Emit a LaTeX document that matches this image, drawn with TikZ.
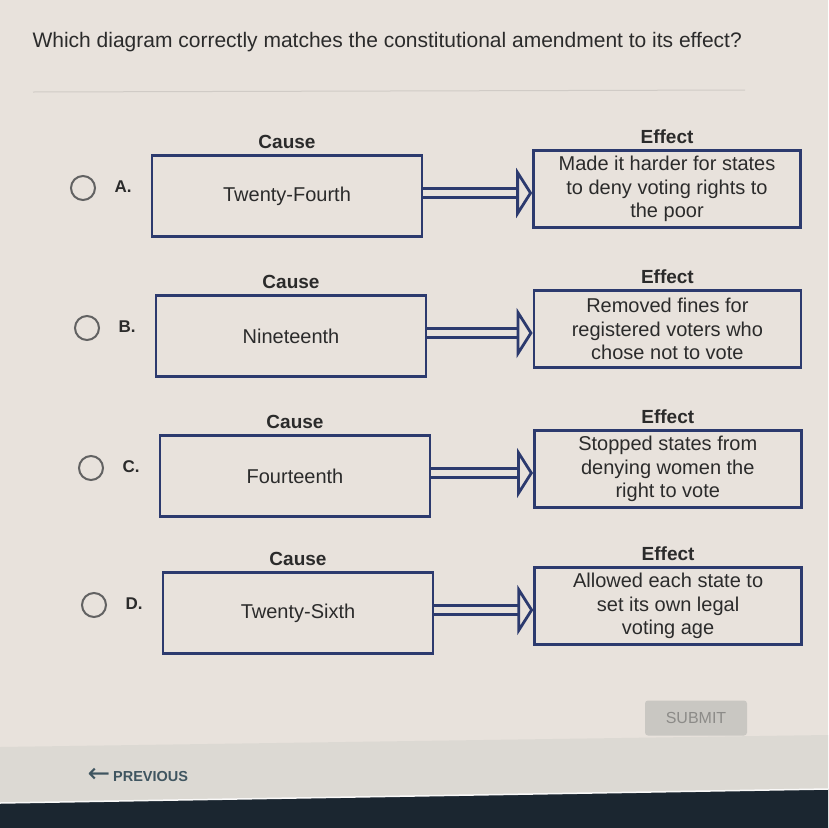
\documentclass[tikz,border=0pt]{standalone}
\usepackage{fontspec}
\setmainfont{Liberation Sans}
\newfontfamily\arrowfont{DejaVu Sans}
\usetikzlibrary{arrows.meta,positioning}
\definecolor{QuizBg}{HTML}{E8E2DC}
\definecolor{QuizFoot}{HTML}{DCD9D3}
\definecolor{QuizDark}{HTML}{1B2630}
\definecolor{QuizNavy}{HTML}{2C3A6E}
\definecolor{QuizText}{HTML}{2B2B2B}
\definecolor{QuizRule}{HTML}{D0CBC6}
\definecolor{QuizRadio}{HTML}{626262}
\definecolor{QuizButton}{HTML}{C9C7C2}
\definecolor{QuizGray}{HTML}{8C8B88}
\definecolor{QuizTeal}{HTML}{3F5560}
\tikzset{
  causebox/.style={draw=QuizNavy,line width=2.6pt,minimum width=270pt,minimum height=81pt,
    text=QuizText,font=\fontsize{20}{23.5}\selectfont},
  effectbox/.style={causebox,minimum width=267pt,minimum height=77pt,align=center,inner sep=2pt},
  headlabel/.style={text=QuizText,font=\bfseries\fontsize{19}{21}\selectfont},
  radio/.style={circle,draw=QuizRadio,line width=2pt,minimum size=24pt,inner sep=0pt},
  letter/.style={text=QuizText,font=\bfseries\fontsize{17}{19}\selectfont},
  implies/.style={-{Triangle[length=16pt,width=50pt,line width=2.8pt,fill=QuizBg]},
    draw=QuizNavy,line width=2.8pt,double=QuizBg,double distance=6pt},
  navtext/.style={text=QuizTeal,font=\bfseries\fontsize{14.5}{16}\selectfont}
}
\begin{document}
\begin{tikzpicture}[x=1pt,y=-1pt]
  \useasboundingbox (0,0) rectangle (828,828);
  % screen background, footer and bezel
  \fill[QuizBg] (0,0) rectangle (828,828);
  \fill[QuizFoot] (0,747) -- (828,735) -- (828,828) -- (0,828) -- cycle;
  \fill[QuizDark] (0,803) -- (828,789) -- (828,828) -- (0,828) -- cycle;
  \draw[white!85!QuizFoot,line width=1.5pt] (0,803) -- (828,789);

  \node[anchor=west,text=QuizText,font=\fontsize{21}{24}\selectfont] (question) at (29,42)
    {Which diagram correctly matches the constitutional amendment to its effect?};
  \draw[QuizRule,line width=1pt] (33,92) -- (745,90);

  \foreach \row/\y/\dx/\cause/\effect in {
    A/196/0/Twenty-Fourth/{Made it harder for states\\to deny voting rights to\\the poor},
    B/336/4/Nineteenth/{Removed fines for\\registered voters who\\chose not to vote},
    C/476/8/Fourteenth/{Stopped states from\\denying women the\\right to vote},
    D/613/11/Twenty-Sixth/{Allowed each state to\\set its own legal\\voting age}} {
    \node[radio] (radio\row) at (83+\dx,\y-8) {};
    \node[letter,anchor=west] (letter\row) at (111+\dx,\y-9) {\row.};
    \node[causebox] (cause\row) at (287+\dx,\y) {\cause};
    \node[effectbox] (effect\row) at (667+\dx/10,\y-7) {\effect};
    \node[headlabel,above=2pt of cause\row] (causehead\row) {Cause};
    \node[headlabel,above=2pt of effect\row] (effecthead\row) {Effect};
    \draw[implies] ([yshift=3pt]cause\row.east) -- ([yshift=3pt]cause\row.east -| effect\row.west);
  }

  \node[fill=QuizButton,rounded corners=3pt,minimum width=102pt,minimum height=35pt,
    text=QuizGray,font=\fontsize{16}{18}\selectfont] (submit) at (696,718) {SUBMIT};
  \node[navtext,anchor=west] (previous) at (84,775)
    {{\arrowfont\mdseries\fontsize{27}{21}\selectfont\raisebox{-1pt}{←}}\hspace{3pt}PREVIOUS};
\end{tikzpicture}
\end{document}
